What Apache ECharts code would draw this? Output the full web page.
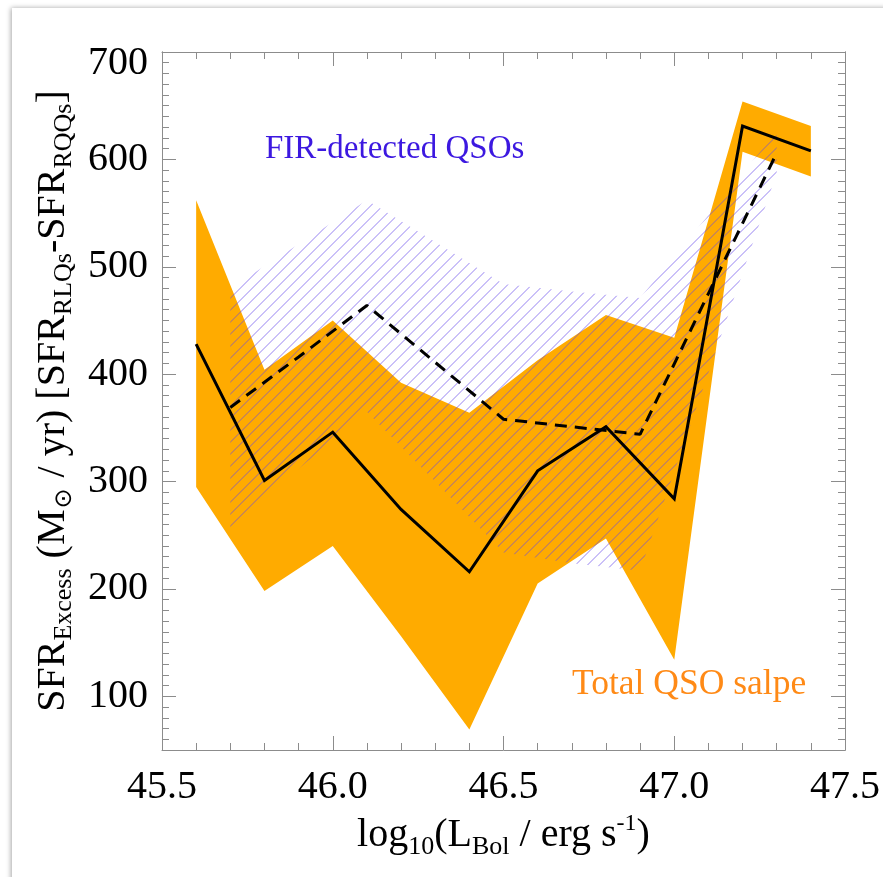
<!DOCTYPE html>
<html><head><meta charset="utf-8">
<script src="https://cdn.jsdelivr.net/npm/echarts@6/dist/echarts.min.js"></script>
<style>html,body{margin:0;padding:0;background:#fff}#c{width:883px;height:877px}</style>
</head><body><div id="c"></div>
<script>
// ---- data ----
const totalX     = [45.6, 45.8, 46.0, 46.2, 46.4, 46.6, 46.8, 47.0, 47.2, 47.4];
const totalMean  = [428, 301, 346, 274, 216, 310, 351, 284, 631, 608];
const totalUpper = [562, 404, 450, 392, 364, 413, 455, 434, 654, 631];
const totalLower = [295, 198, 240, 156, 69, 205, 247, 134, 607, 584];

const firX     = [45.7, 45.9, 46.1, 46.3, 46.5, 46.7, 46.9, 47.1, 47.3];
const firMean  = [369, 416, 464, 411, 358, 351, 344, 475, 606];
const firUpper = [480, 521, 562, 523, 484, 477, 471, 548, 626];
const firLower = [257, 312, 365, 300, 234, 224, 217, 401, 587];

const xTickLabels = [45.5, 46.0, 46.5, 47.0, 47.5];
const yTickLabels = [100, 200, 300, 400, 500, 600, 700];

// ---- styling helpers ----
const FONT = '"Liberation Serif", "Times New Roman", serif';
const AXIS_COLOR = '#8c8c8c';

// diagonal ("/") hatch tile
function hatchPattern() {
  const s = 24, step = 12, c = document.createElement('canvas');
  c.width = s; c.height = s;
  const g = c.getContext('2d');
  g.strokeStyle = 'rgba(100,72,235,0.68)';
  g.lineWidth = 1;
  for (let k = -1; k <= 5; k++) {
    const off = k * step + 0.5;
    g.beginPath();
    g.moveTo(-6, off + 6);
    g.lineTo(s + 6, off - s - 6);
    g.stroke();
  }
  return { image: c, repeat: 'repeat' };
}

function bandSeries(xs, lo, hi, style, z) {
  return {
    type: 'custom',
    z: z,
    silent: true,
    data: xs.map((x, i) => [x, lo[i], hi[i]]),
    encode: { x: 0, y: [1, 2] },
    renderItem: function (params, api) {
      if (params.dataIndex !== 0) return null;
      const pts = [];
      for (let i = 0; i < xs.length; i++) pts.push(api.coord([xs[i], hi[i]]));
      for (let i = xs.length - 1; i >= 0; i--) pts.push(api.coord([xs[i], lo[i]]));
      return { type: 'polygon', shape: { points: pts }, style: style };
    }
  };
}

const richText = {
  m:   { fontFamily: FONT, fontSize: 40, lineHeight: 48, color: '#000' },
  sub: { fontFamily: FONT, fontSize: 26, lineHeight: 26, padding: [22, 0, 0, 0], verticalAlign: 'bottom', color: '#000' },
  sup: { fontFamily: FONT, fontSize: 24, lineHeight: 24, verticalAlign: 'top', color: '#000' },
  sun: { fontFamily: '"DejaVu Sans"', fontSize: 24, lineHeight: 26, padding: [22, 1, 0, 1], verticalAlign: 'bottom', color: '#000' }
};

function xAxisBase(pos, showLabels) {
  return {
    type: 'value', position: pos, min: 45.5, max: 47.5, interval: 0.5,
    axisLine: { show: true, onZero: false, lineStyle: { color: AXIS_COLOR, width: 1 } },
    axisTick: { show: true, inside: true, length: 14, lineStyle: { color: AXIS_COLOR } },
    minorTick: { show: true, splitNumber: 5, length: 7, lineStyle: { color: AXIS_COLOR } },
    splitLine: { show: false },
    axisLabel: showLabels ? {
      show: true, margin: 17, fontFamily: FONT, fontSize: 40, color: '#000',
      customValues: xTickLabels, formatter: v => v.toFixed(1)
    } : { show: false }
  };
}
function yAxisShort(pos) {
  return {
    type: 'value', position: pos, min: 50, max: 700, interval: 10,
    axisLine: { show: true, onZero: false, lineStyle: { color: AXIS_COLOR, width: 1 } },
    axisTick: { show: true, inside: true, length: 7, lineStyle: { color: AXIS_COLOR } },
    splitLine: { show: false },
    axisLabel: { show: false }
  };
}
function yAxisLong(pos, showLabels) {
  const a = {
    type: 'value', position: pos, min: 50, max: 700, interval: 10,
    axisLine: { show: true, onZero: false, lineStyle: { color: AXIS_COLOR, width: 1 } },
    axisTick: { show: true, inside: true, length: 14, customValues: yTickLabels, lineStyle: { color: AXIS_COLOR } },
    splitLine: { show: false },
    axisLabel: { show: false }
  };
  if (showLabels) {
    a.axisLabel = {
      show: true, margin: 14, fontFamily: FONT, fontSize: 40, color: '#000',
      customValues: yTickLabels,
      formatter: v => v === 700 ? '{t|700}' : String(v),
      rich: { t: { fontFamily: FONT, fontSize: 40, padding: [22, 0, 0, 0] } }
    };
    a.name = '{m|SFR}{sub|Excess}{m| (M}{sun|⊙}{m| / yr) [SFR}{sub|RLQs}{m|-SFR}{sub|RQQs}{m|]}';
    a.nameLocation = 'middle';
    a.nameRotate = 90;
    a.nameGap = 84;
    a.nameTextStyle = { rich: richText };
  }
  return a;
}

const xBottom = xAxisBase('bottom', true);
xBottom.name = '{m|log}{sub|10}{m|(L}{sub|Bol}{m| / erg s}{sup|-1}{m|)}';
xBottom.nameLocation = 'middle';
xBottom.nameGap = 56;
xBottom.nameTextStyle = { rich: richText };

const chart = echarts.init(document.getElementById('c'), null, { renderer: 'canvas' });
chart.setOption({
  backgroundColor: '#ffffff',
  animation: false,
  grid: { left: 162, top: 52, width: 683, height: 698, containLabel: false },
  xAxis: [xBottom, xAxisBase('top', false)],
  yAxis: [yAxisLong('left', true), yAxisShort('left'), yAxisShort('right'), yAxisLong('right', false)],
  graphic: [
    { type: 'rect', z: -100, silent: true, shape: { x: 12, y: 8, width: 900, height: 900 },
      style: { fill: '#fff', shadowBlur: 5, shadowColor: 'rgba(0,0,0,0.35)', shadowOffsetX: -1, shadowOffsetY: 0 } },
    { type: 'text', z: 10, left: 265, top: 133, silent: true,
      style: { text: 'FIR-detected QSOs', fontFamily: FONT, fontSize: 33, fill: '#3c18e0' } },
    { type: 'text', z: 10, left: 572, top: 667, silent: true,
      style: { text: 'Total QSO salpe', fontFamily: FONT, fontSize: 35.5, fill: '#ff8a16' } }
  ],
  series: [
    bandSeries(totalX, totalLower, totalUpper, { fill: '#ffab00' }, 1),
    bandSeries(firX, firLower, firUpper, { fill: hatchPattern() }, 2),
    {
      type: 'line', z: 3, silent: true, symbol: 'none',
      data: totalX.map((x, i) => [x, totalMean[i]]),
      lineStyle: { color: '#000', width: 3, join: 'miter' }
    },
    {
      type: 'line', z: 4, silent: true, symbol: 'none',
      data: firX.map((x, i) => [x, firMean[i]]),
      lineStyle: { color: '#000', width: 3, type: [12, 8] }
    }
  ]
});
</script>
</body></html>
